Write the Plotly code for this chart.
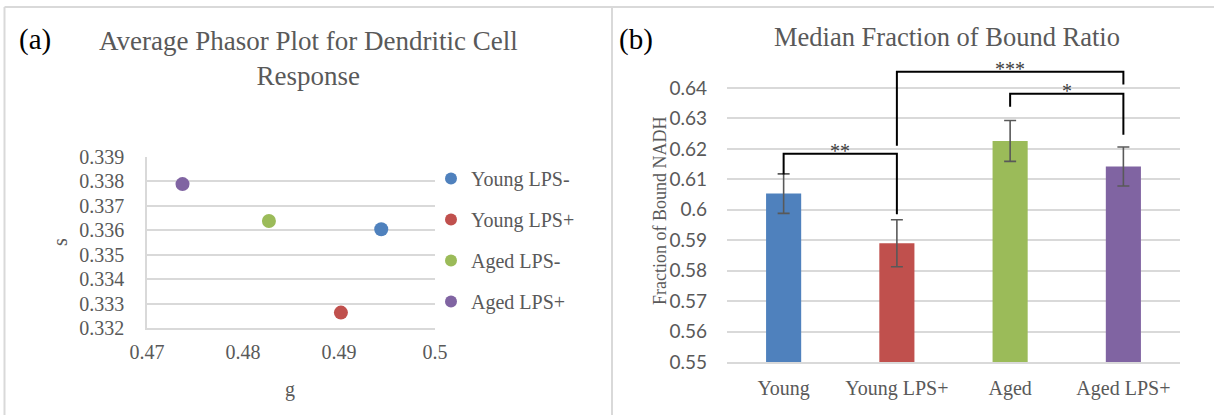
import plotly.graph_objects as go

W, H = 1214, 415

# ---------------- data ----------------
# (a) phasor plot
phasor_groups = ["Young LPS-", "Young LPS+", "Aged LPS-", "Aged LPS+"]
phasor_g = [0.4944, 0.4902, 0.4827, 0.4737]
phasor_s = [0.33604, 0.33263, 0.33638, 0.33789]
phasor_colors = ["#4f81bd", "#c0504d", "#9bbb59", "#8064a2"]
g_ticks = [0.47, 0.48, 0.49, 0.50]
g_ticktext = ["0.47", "0.48", "0.49", "0.5"]
s_ticks = [0.332, 0.333, 0.334, 0.335, 0.336, 0.337, 0.338, 0.339]
s_ticktext = ["0.332", "0.333", "0.334", "0.335", "0.336", "0.337", "0.338", "0.339"]

# (b) median fraction of bound ratio
bar_categories = ["Young", "Young LPS+", "Aged", "Aged LPS+"]
bar_values = [0.6053, 0.5890, 0.6226, 0.6142]
bar_errors = [0.0065, 0.0077, 0.0067, 0.0064]
bar_colors = ["#4f81bd", "#c0504d", "#9bbb59", "#8064a2"]
frac_ticks = [0.55, 0.56, 0.57, 0.58, 0.59, 0.60, 0.61, 0.62, 0.63, 0.64]
frac_ticktext = ["0.55", "0.56", "0.57", "0.58", "0.59", "0.6", "0.61", "0.62", "0.63", "0.64"]

# significance brackets: left cat, right cat, top, left bottom, right bottom, label
brackets = [
    ("Young", "Young LPS+", 0.6184, 0.6116, 0.5985, "**"),
    ("Young LPS+", "Aged LPS+", 0.6453, 0.6210, 0.6411, "***"),
    ("Aged", "Aged LPS+", 0.6381, 0.6338, 0.6246, "*"),
]

# ---------------- styling ----------------
SERIF = "Liberation Serif, Times New Roman, serif"
SANS = "Lato, Carlito, Calibri, sans-serif"
GRAY = "#595959"
GRID = "#d9d9d9"


def px_x(p):
    return p / W


def px_y(p):
    return 1 - p / H


fig = go.Figure()

for name, gx, sy, col in zip(phasor_groups, phasor_g, phasor_s, phasor_colors):
    fig.add_trace(go.Scatter(
        x=[gx], y=[sy], mode="markers", name=name, legendgroup=name,
        marker=dict(size=14, color=col),
        xaxis="x", yaxis="y",
    ))

fig.add_trace(go.Bar(
    x=bar_categories, y=bar_values, marker=dict(color=bar_colors, line=dict(width=0)),
    error_y=dict(type="data", array=bar_errors, visible=True, color=GRAY, thickness=1.6, width=6),
    xaxis="x2", yaxis="y2", showlegend=False,
))

for lc, rc, top, lb, rb, lab in brackets:
    fig.add_trace(go.Scatter(
        x=[lc, lc, rc, rc], y=[lb, top, top, rb], mode="lines",
        line=dict(color="black", width=2), xaxis="x2", yaxis="y2",
        showlegend=False, hoverinfo="skip",
    ))
    ci = (bar_categories.index(lc) + bar_categories.index(rc)) / 2
    fig.add_annotation(
        x=ci, y=top, xref="x2", yref="y2", text=lab, showarrow=False,
        xanchor="center", yanchor="middle", yshift=3,
        font=dict(family=SERIF, size=20, color="#404040"),
    )

fig.update_layout(
    width=W, height=H,
    margin=dict(l=0, r=0, t=0, b=0, pad=0, autoexpand=False),
    paper_bgcolor="white", plot_bgcolor="white",
    barmode="group", bargap=0.69,
    xaxis=dict(
        domain=[px_x(147), px_x(435)], range=[0.47, 0.5], anchor="y",
        tickvals=g_ticks, ticktext=g_ticktext, automargin=False,
        showgrid=False, zeroline=False, showline=True, linecolor=GRID, linewidth=1.5,
        tickfont=dict(family=SERIF, size=20, color=GRAY), ticklabelstandoff=5,
    ),
    yaxis=dict(
        domain=[px_y(328), px_y(157)], range=[0.332, 0.339], anchor="x",
        tickvals=s_ticks, ticktext=s_ticktext, automargin=False,
        showgrid=True, gridcolor=GRID, gridwidth=1.5, zeroline=False,
        showline=True, linecolor=GRID, linewidth=1.5,
        tickfont=dict(family=SERIF, size=20, color=GRAY), ticklabelstandoff=17,
    ),
    xaxis2=dict(
        domain=[px_x(727), px_x(1180)], type="category", anchor="y2",
        categoryorder="array", categoryarray=bar_categories, range=[-0.5, 3.5],
        automargin=False,
        showgrid=False, zeroline=False, showline=True, linecolor=GRID, linewidth=1.5,
        tickfont=dict(family=SERIF, size=20, color=GRAY), ticklabelstandoff=7,
    ),
    yaxis2=dict(
        domain=[px_y(362), px_y(63.6)], range=[0.55, 0.648], anchor="x2",
        tickvals=frac_ticks, ticktext=frac_ticktext, automargin=False,
        showgrid=True, gridcolor=GRID, gridwidth=1.5, zeroline=False, showline=False,
        tickfont=dict(family=SANS, size=19, color=GRAY), ticklabelstandoff=19,
    ),
    legend=dict(
        x=px_x(431), y=px_y(159), xanchor="left", yanchor="top",
        font=dict(family=SERIF, size=20, color=GRAY),
        itemsizing="constant", tracegroupgap=12, traceorder="grouped",
        bgcolor="rgba(0,0,0,0)", borderwidth=0,
    ),
    showlegend=True,
)

# titles, panel letters, axis titles
def label(px, py, text, size, color=GRAY, angle=0):
    fig.add_annotation(x=px_x(px), y=px_y(py), xref="paper", yref="paper", text=text,
                       xanchor="center", yanchor="middle", textangle=angle,
                       showarrow=False, font=dict(family=SERIF, size=size, color=color))


label(35, 40, "(a)", 29, "black")
label(636, 40, "(b)", 29, "black")
label(308, 59, "Average Phasor Plot for Dendritic Cell<br>Response", 27)
label(947, 37, "Median Fraction of Bound Ratio", 26.5)
label(290, 389, "g", 20)
label(60, 242, "s", 20, angle=-90)
label(660, 211, "Fraction of Bound NADH", 18, angle=-90)

# frame lines
frame = dict(type="line", xref="paper", yref="paper", line=dict(color=GRID, width=2))
fig.add_shape(x0=px_x(4.5), x1=1, y0=px_y(7), y1=px_y(7), **frame)
fig.add_shape(x0=px_x(4.5), x1=px_x(4.5), y0=px_y(7), y1=0, **frame)
fig.add_shape(x0=px_x(612), x1=px_x(612), y0=px_y(7), y1=0, **frame)

fig.write_html("out.html")
